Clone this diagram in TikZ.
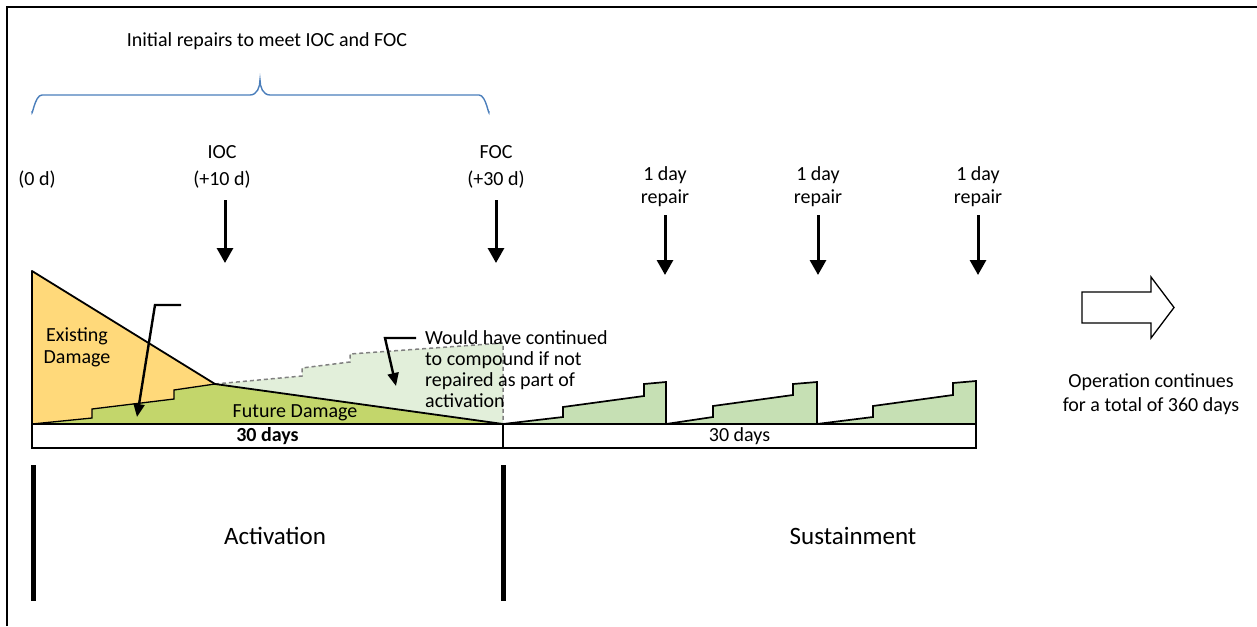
\documentclass[tikz,border=0pt]{standalone}
\usepackage{fontspec}
\setmainfont{Carlito}
\usetikzlibrary{arrows.meta}
\definecolor{yel}{HTML}{FFD97A}
\definecolor{dgreen}{HTML}{C3D66B}
\definecolor{lgreen}{HTML}{E2EFDA}
\definecolor{sgreen}{HTML}{C6E0B4}
\definecolor{braceblue}{HTML}{4A7EBB}
\tikzset{
  txt/.style={font=\fontsize{20}{23}\selectfont, inner sep=0pt, align=center},
  txtwide/.style={font=\fontsize{20}{27}\selectfont, inner sep=0pt, align=center},
  bigtxt/.style={font=\fontsize{25}{30}\selectfont, inner sep=0pt},
  downarrow/.style={line width=3pt, -{Triangle[width=16pt,length=15pt]}},
  callout/.style={line width=2.4pt, -{Triangle[width=11pt,length=13pt]}},
  outline/.style={line width=1.8pt, line join=round},
  stair/.style={line width=1.3pt},
  sawstair/.style={line width=1.7pt},
  dashstair/.style={line width=1.5pt, draw=gray, dash pattern=on 4pt off 3pt},
  barbox/.style={draw, line width=2.8pt, fill=white, minimum height=24pt, inner sep=0pt, font=\fontsize{20}{23}\selectfont},
  phase/.style={line width=5pt},
  brace/.style={line width=1.4pt, draw=braceblue},
}
\begin{document}
\begin{tikzpicture}[x=1pt,y=-1pt]
\useasboundingbox (0,0) rectangle (1257,626);
\draw[line width=1.3pt] (7,626) -- (7,7) -- (1257,7);

% title and brace
\node[txt] (title) at (267,41) {Initial repairs to meet IOC and FOC};
\draw[brace] (32,111) to[out=-90,in=180,looseness=1] (42,95) -- (250,95)
  to[out=0,in=-90] (260,80) to[out=-90,in=180] (270,95) -- (479,95)
  to[out=0,in=-90] (489,111);

% milestone labels
\node[txt] (d0) at (37,180) {(0 d)};
\node[txtwide] (ioc) at (222,167) {IOC\\(+10 d)};
\node[txtwide] (foc) at (496,167) {FOC\\(+30 d)};
\node[txt] (r1) at (665,187) {1 day\\repair};
\node[txt] (r2) at (818,187) {1 day\\repair};
\node[txt] (r3) at (978,187) {1 day\\repair};

\coordinate (iocA) at (225,200); \coordinate (iocB) at (225,263);
\coordinate (focA) at (496,200); \coordinate (focB) at (496,263);
\coordinate (r1A) at (665,215); \coordinate (r1B) at (665,275);
\coordinate (r2A) at (818,215); \coordinate (r2B) at (818,275);
\coordinate (r3A) at (978,215); \coordinate (r3B) at (978,275);
\draw[downarrow] (iocA) -- (iocB);
\draw[downarrow] (focA) -- (focB);
\draw[downarrow] (r1A) -- (r1B);
\draw[downarrow] (r2A) -- (r2B);
\draw[downarrow] (r3A) -- (r3B);

% activation chart
\fill[lgreen] (215,384) -- (302,376) -- (302,368) -- (350,362) -- (350,354) -- (503,343) -- (503,424) -- cycle;
\fill[dgreen] (32,424) -- (92,418) -- (92,409) -- (174,399) -- (174,390) -- (215,384) -- (503,424) -- cycle;
\fill[yel] (32,271) -- (215,384) -- (174,390) -- (174,399) -- (92,409) -- (92,418) -- (32,424) -- cycle;
\draw[dashstair] (215,384) -- (302,376) -- (302,368) -- (350,362) -- (350,354) -- (503,343) -- (503,424);
\draw[stair] (32,424) -- (92,418) -- (92,409) -- (174,399) -- (174,390) -- (215,384);
\draw[outline] (32,424) -- (32,271) -- (215,384) -- (503,424);

\node[txt, font=\fontsize{20}{22}\selectfont] (exist) at (77,347) {Existing\\Damage};
\node[txt] (future) at (295,413) {Future Damage};
\node[txt, font=\fontsize{20}{21.3}\selectfont, align=left, anchor=north west] (would) at (425,330)
  {Would have continued\\to compound if not\\repaired as part of\\activation};

\coordinate (c1a) at (181,305); \coordinate (c1b) at (155,305); \coordinate (c1c) at (137,417);
\draw[callout] (c1a) -- (c1b) -- (c1c);
\coordinate (c2a) at (416,338); \coordinate (c2b) at (385,338); \coordinate (c2c) at (396,386);
\draw[callout] (c2a) -- (c2b) -- (c2c);

% sustainment sawtooth
\filldraw[fill=sgreen, sawstair] (503,424) -- (563,417) -- (563,407) -- (644,396) -- (644,384) -- (666,382) -- (666,424) -- cycle;
\filldraw[fill=sgreen, sawstair] (666,424) -- (713,417) -- (713,406) -- (793,395) -- (793,384) -- (817,382) -- (817,424) -- cycle;
\filldraw[fill=sgreen, sawstair] (817,424) -- (873,417) -- (873,406) -- (953,395) -- (953,383) -- (976,381) -- (976,424) -- cycle;

% day bars
\node[barbox, minimum width=471pt] (bar1) at (267.5,436) {\textbf{30 days}};
\node[barbox, minimum width=473pt] (bar2) at (739.5,436) {30 days};

% continuation arrow
\draw[line width=1.3pt, line join=miter] (1082,292) -- (1151,292) -- (1151,277) -- (1174,307.5)
  -- (1151,338) -- (1151,323) -- (1082,323) -- cycle;
\node[txt, font=\fontsize{20}{24}\selectfont] (cont) at (1151,394) {Operation continues\\for a total of 360 days};

% phases
\coordinate (p1a) at (33,465); \coordinate (p1b) at (33,601);
\coordinate (p2a) at (503,465); \coordinate (p2b) at (503,601);
\draw[phase] (p1a) -- (p1b);
\draw[phase] (p2a) -- (p2b);
\node[bigtxt] (act) at (275,536) {Activation};
\node[bigtxt] (sus) at (853,536) {Sustainment};
\end{tikzpicture}
\end{document}
